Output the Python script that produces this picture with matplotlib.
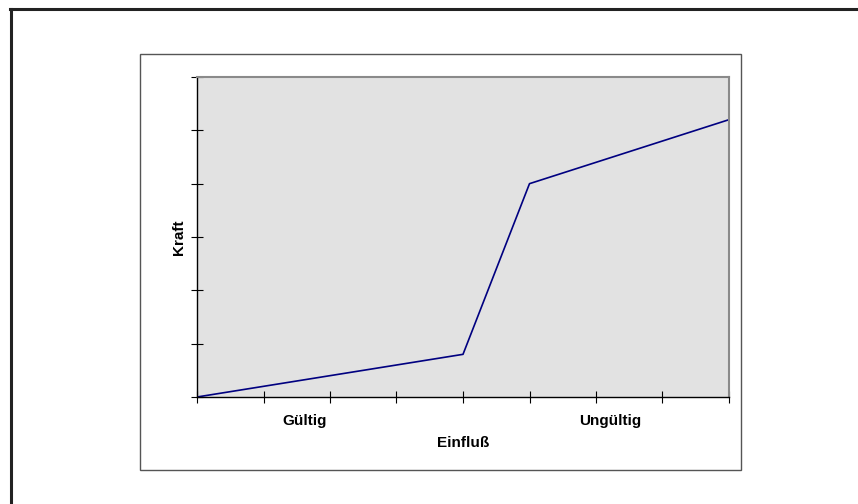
import matplotlib.pyplot as plt
from matplotlib.patches import Rectangle
from matplotlib.lines import Line2D

plt.rcParams['font.family'] = ['Liberation Sans', 'DejaVu Sans']

# Kraft über Einfluß
einfluss = [0, 1, 2, 3, 4, 5, 6, 7, 8]
kraft = [0.0, 0.2, 0.4, 0.6, 0.8, 4.0, 4.4, 4.8, 5.2]

W, H = 858, 504
fig = plt.figure(figsize=(W / 100, H / 100), dpi=100)
fig.patch.set_facecolor('white')

# äußerer Rahmen (nur oben und links sichtbar)
fig.add_artist(Line2D([10 / W, 1], [1 - 9 / H, 1 - 9 / H], color='#222222', lw=2.2,
                      transform=fig.transFigure))
fig.add_artist(Line2D([10.5 / W, 10.5 / W], [0, 1 - 9 / H], color='#222222', lw=2.2,
                      transform=fig.transFigure))

# Diagrammbereich
fig.add_artist(Rectangle((140 / W, 1 - 470 / H), (741 - 140) / W, (470 - 54) / H,
                         fill=False, edgecolor='#555555', lw=1.0,
                         transform=fig.transFigure))

ax = fig.add_axes([197 / W, 1 - 397 / H, (729 - 197) / W, (397 - 77) / H])
ax.set_facecolor('#e2e2e2')
ax.plot(einfluss, kraft, color='#000080', lw=1.2)

ax.set_xlim(0, 8)
ax.set_ylim(0, 6)
ax.set_xticks(range(0, 9))
ax.set_yticks(range(0, 7))
ax.set_xticklabels([])
ax.set_yticklabels([])
ax.tick_params(direction='inout', length=8, width=0.8, color='black')

for s in ['left', 'bottom']:
    ax.spines[s].set_color('black')
    ax.spines[s].set_linewidth(1.0)
for s in ['top', 'right']:
    ax.spines[s].set_color('#8a8a8a')
    ax.spines[s].set_linewidth(1.5)

ax.text(1.62, -0.45, 'Gültig', ha='center', va='center', fontsize=11, fontweight='bold')
ax.text(6.21, -0.45, 'Ungültig', ha='center', va='center', fontsize=11, fontweight='bold')
ax.text(4.0, -0.86, 'Einfluß', ha='center', va='center', fontsize=11, fontweight='bold')
ax.text(-0.27, 3.0, 'Kraft', ha='center', va='center', rotation=90,
        fontsize=11, fontweight='bold')

fig.savefig('out.png', dpi=100)
